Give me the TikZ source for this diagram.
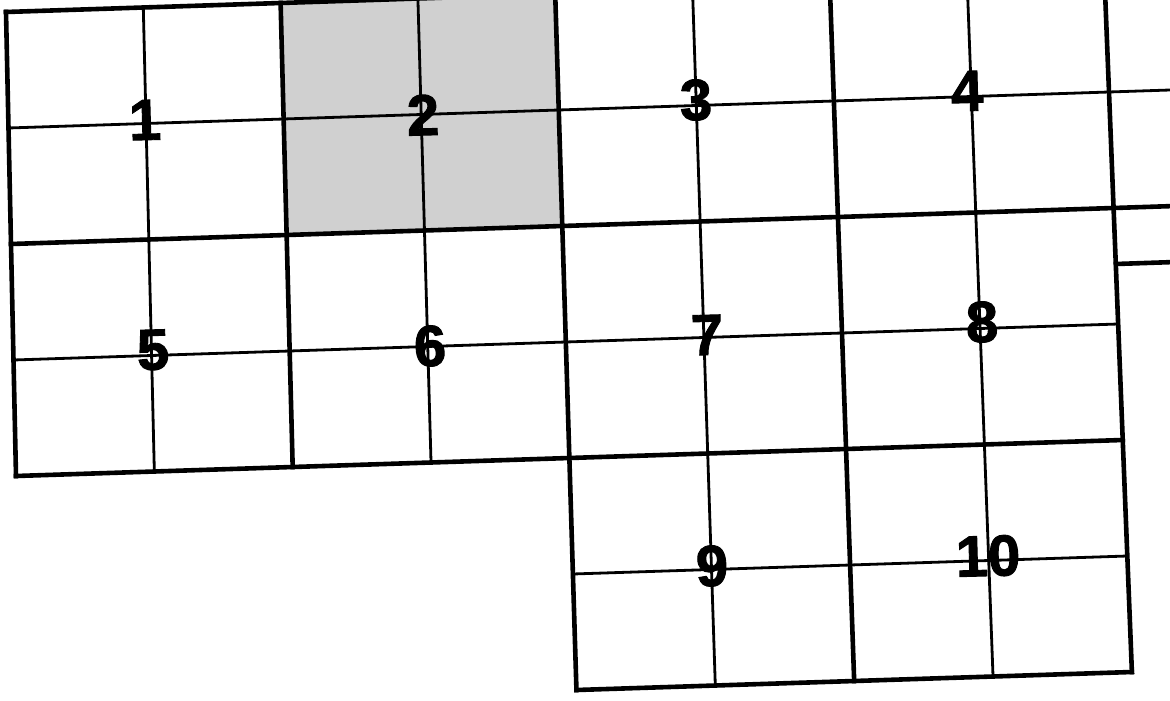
\documentclass[tikz,border=0pt]{standalone}
\usepackage{fontspec}
\setmainfont{Liberation Sans}
\font\lblfont="Liberation Sans Bold:embolden=1.6" at 29pt
\definecolor{shadegray}{RGB}{208,208,208}
\begin{document}
\begin{tikzpicture}[x=0.5pt,y=-0.5pt,
  major/.style={line width=2.3pt, line cap=rect},
  minor/.style={line width=1.4pt, line cap=rect},
  lbl/.style={font=\lblfont, inner sep=0pt, rotate=1.5}]
\useasboundingbox (0,0) rectangle (1170,700);
\fill[white] (0,0) rectangle (1170,700);
\clip (0,0) rectangle (1170,700);
% grid points
\foreach \i in {0,...,8}{
  \foreach \j in {0,...,6}{
    \coordinate (g\i-\j) at ({6+137.3*\i+(2.5+0.26*\i)*\j},{12-4.5*\i+116*\j});
  }
}
\coordinate (e1) at ({6+137.3*8.5+(2.5+0.26*8.5)*1},{12-4.5*8.5+116*1});
\coordinate (e2) at ({6+137.3*8.5+(2.5+0.26*8.5)*2},{12-4.5*8.5+116*2});
\coordinate (x1) at (1116,264);
\coordinate (x2) at (1175,262);
% shaded section
\fill[shadegray] (g2-0) -- (g4-0) -- (g4-2) -- (g2-2) -- cycle;
% horizontal lines
\draw[major] (g0-0) -- (g4-0);
\draw[minor] (g0-1) -- (e1);
\draw[major] (g0-2) -- (e2);
\draw[minor] (g0-3) -- (g8-3);
\draw[major] (g0-4) -- (g8-4);
\draw[minor] (g4-5) -- (g8-5);
\draw[major] (g4-6) -- (g8-6);
\draw[major] (x1) -- (x2);
% vertical lines
\foreach \i in {0,2}{\draw[major] (g\i-0) -- (g\i-4);}
\foreach \i in {1,3}{\draw[minor] (g\i-0) -- (g\i-4);}
\foreach \i in {4,6,8}{\draw[major] (g\i-0) -- (g\i-6);}
\foreach \i in {5,7}{\draw[minor] (g\i-0) -- (g\i-6);}
% labels
\node[lbl] (l1) at (145,120) {1};
\node[lbl] (l2) at (423,115) {2};
\node[lbl] (l3) at (696,100) {3};
\node[lbl] (l4) at (967,91) {4};
\node[lbl] (l5) at (153,350) {5};
\node[lbl] (l6) at (430,346) {6};
\node[lbl] (l7) at (707,335) {7};
\node[lbl] (l8) at (982,322) {8};
\node[lbl] (l9) at (712,566) {9};
\node[lbl] (l10) at (988,556) {10};
\end{tikzpicture}
\end{document}
